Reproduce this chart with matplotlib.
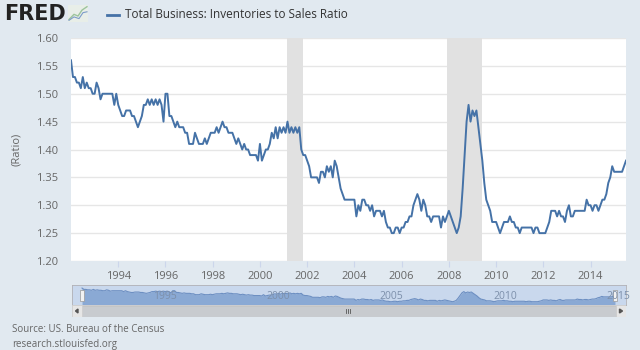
"""
plot.py
-------
FRED style line chart: Total Business Inventories to Sales Ratio, 1992-2015,
with recession shading, a navigator strip and a scrollbar underneath.
"""

import numpy as np
import matplotlib
matplotlib.use("Agg")
import matplotlib.pyplot as plt
from matplotlib.patches import Rectangle, Polygon


# ─────────────────────────────────────────────
# Data (monthly, starting January 1992)
# ─────────────────────────────────────────────

START_YEAR = 1992

ratio = [
    1.56, 1.53, 1.53, 1.52, 1.52, 1.51, 1.53, 1.51, 1.52, 1.51, 1.51, 1.50,  # 1992
    1.50, 1.52, 1.51, 1.49, 1.50, 1.50, 1.50, 1.50, 1.50, 1.50, 1.48, 1.50,  # 1993
    1.48, 1.47, 1.46, 1.46, 1.47, 1.47, 1.47, 1.46, 1.46, 1.45, 1.44, 1.45,  # 1994
    1.46, 1.48, 1.48, 1.49, 1.48, 1.49, 1.48, 1.49, 1.48, 1.49, 1.48, 1.45,  # 1995
    1.50, 1.50, 1.46, 1.46, 1.45, 1.44, 1.45, 1.44, 1.44, 1.44, 1.43, 1.43,  # 1996
    1.41, 1.41, 1.41, 1.43, 1.42, 1.41, 1.41, 1.41, 1.42, 1.41, 1.42, 1.43,  # 1997
    1.43, 1.43, 1.44, 1.43, 1.44, 1.45, 1.44, 1.44, 1.43, 1.43, 1.43, 1.42,  # 1998
    1.41, 1.42, 1.41, 1.40, 1.41, 1.40, 1.40, 1.39, 1.39, 1.39, 1.39, 1.38,  # 1999
    1.41, 1.38, 1.39, 1.40, 1.40, 1.41, 1.43, 1.42, 1.44, 1.42, 1.44, 1.43,  # 2000
    1.44, 1.43, 1.45, 1.43, 1.44, 1.43, 1.44, 1.43, 1.44, 1.40, 1.39, 1.39,  # 2001
    1.38, 1.37, 1.35, 1.35, 1.35, 1.35, 1.34, 1.36, 1.36, 1.35, 1.37, 1.36,  # 2002
    1.37, 1.35, 1.38, 1.37, 1.35, 1.33, 1.32, 1.31, 1.31, 1.31, 1.31, 1.31,  # 2003
    1.31, 1.28, 1.30, 1.29, 1.31, 1.31, 1.30, 1.30, 1.29, 1.30, 1.28, 1.29,  # 2004
    1.29, 1.29, 1.28, 1.29, 1.27, 1.26, 1.26, 1.25, 1.25, 1.26, 1.26, 1.25,  # 2005
    1.26, 1.26, 1.27, 1.27, 1.28, 1.28, 1.30, 1.31, 1.32, 1.31, 1.29, 1.31,  # 2006
    1.30, 1.28, 1.28, 1.27, 1.28, 1.28, 1.28, 1.28, 1.26, 1.28, 1.27, 1.28,  # 2007
    1.29, 1.28, 1.27, 1.26, 1.25, 1.26, 1.28, 1.33, 1.39, 1.45, 1.48, 1.45,  # 2008
    1.47, 1.46, 1.47, 1.44, 1.41, 1.38, 1.34, 1.31, 1.30, 1.29, 1.27, 1.27,  # 2009
    1.27, 1.26, 1.25, 1.26, 1.27, 1.27, 1.27, 1.28, 1.27, 1.27, 1.26, 1.26,  # 2010
    1.25, 1.26, 1.26, 1.26, 1.26, 1.26, 1.26, 1.25, 1.26, 1.26, 1.25, 1.25,  # 2011
    1.25, 1.25, 1.26, 1.27, 1.29, 1.29, 1.29, 1.28, 1.29, 1.28, 1.28, 1.27,  # 2012
    1.29, 1.30, 1.28, 1.28, 1.29, 1.29, 1.29, 1.29, 1.29, 1.29, 1.31, 1.30,  # 2013
    1.30, 1.29, 1.30, 1.30, 1.29, 1.30, 1.31, 1.31, 1.32, 1.34, 1.35, 1.37,  # 2014
    1.36, 1.36, 1.36, 1.36, 1.36, 1.37, 1.38,                                # 2015
]

# NBER recessions (decimal years)
recession_starts = [2001 + 2 / 12, 2007 + 11 / 12]
recession_ends = [2001 + 10 / 12, 2009 + 5 / 12]

x_ticks = [1994, 1996, 1998, 2000, 2002, 2004, 2006, 2008, 2010, 2012, 2014]
y_ticks = [1.20, 1.25, 1.30, 1.35, 1.40, 1.45, 1.50, 1.55, 1.60]
navigator_years = [1995, 2000, 2005, 2010, 2015]

SERIES_TITLE = "Total Business: Inventories to Sales Ratio"
SOURCE_LINES = ["Source: US. Bureau of the Census", "research.stlouisfed.org"]


# ─────────────────────────────────────────────
# Styling
# ─────────────────────────────────────────────

BG = "#e1e9f0"
LINE = "#4572a7"
GRID = "#e6e6e6"
TEXT = "#666666"
SHADE = "#e1e1e1"

W, H = 640, 350

plt.rcParams["font.family"] = ["Open Sans", "DejaVu Sans"]


def px_box(x0, y0, x1, y1):
    """Pixel box (top-left origin) -> figure fraction rect."""
    return [x0 / W, 1 - y1 / H, (x1 - x0) / W, (y1 - y0) / H]


# ─────────────────────────────────────────────
# Main chart
# ─────────────────────────────────────────────

def draw_main(fig, t, values):
    ax = fig.add_axes(px_box(71, 38, 626, 261))
    ax.set_facecolor("white")

    for s, e in zip(recession_starts, recession_ends):
        ax.axvspan(s, e, color=SHADE, lw=0, zorder=1)

    ax.plot(t, values, color=LINE, lw=1.4, zorder=3, solid_joinstyle="round")

    ax.set_xlim(t[0], t[-1])
    ax.set_ylim(1.20, 1.60)
    ax.set_yticks(y_ticks)
    ax.set_yticklabels([f"{v:.2f}" for v in y_ticks])
    ax.set_xticks(x_ticks)
    ax.set_xticklabels([str(v) for v in x_ticks])
    ax.grid(axis="y", color=GRID, lw=1, zorder=0)
    ax.set_axisbelow(True)

    for sp in ax.spines.values():
        sp.set_visible(False)

    ax.tick_params(axis="y", length=0, pad=9, labelsize=8, labelcolor=TEXT)
    ax.tick_params(axis="x", length=4, width=0.8, color="#ccd6eb", pad=3,
                   labelsize=8, labelcolor=TEXT)

    ax.set_ylabel("(Ratio)", fontsize=8, color=TEXT, labelpad=10)
    return ax


# ─────────────────────────────────────────────
# Navigator + scrollbar
# ─────────────────────────────────────────────

def draw_navigator(fig, t, values):
    nav = fig.add_axes(px_box(72, 285, 626, 305))
    nav.set_facecolor("#c9d8ed")
    nav.fill_between(t, 1.0, values, color="#8aa9d4", lw=0, zorder=1)
    nav.plot(t, values, color="#6d8fc2", lw=0.8, zorder=2)
    nav.set_xlim(t[0] - 10 / 22.6, t[-1] + 11 / 22.6)
    nav.set_ylim(1.175, 1.63)
    nav.set_xticks([])
    nav.set_yticks([])
    for sp in nav.spines.values():
        sp.set_color("#b2b1b6")
        sp.set_linewidth(0.6)

    for yr in navigator_years:
        nav.annotate(str(yr), xy=(yr, 1.175), xytext=(2, 2),
                     textcoords="offset points", ha="left", va="bottom",
                     fontsize=7.5, color="#7d90ab", annotation_clip=False,
                     zorder=6)

    # handles at both ends of the selected range
    for xv in (t[0], t[-1]):
        nav.add_patch(Rectangle((xv - 0.1, 1.27), 0.2, 0.24,
                                facecolor="#f2f2f2", edgecolor="#999999",
                                lw=0.5, zorder=5))

    # scrollbar
    sb = fig.add_axes(px_box(72, 305, 626, 317))
    sb.set_xlim(0, 554)
    sb.set_ylim(0, 12)
    sb.axis("off")
    sb.add_patch(Rectangle((0, 0), 554, 12, facecolor="#eeeeee",
                           edgecolor="#cccccc", lw=0.5))
    sb.add_patch(Rectangle((9, 0.5), 535, 11, facecolor="#c8cbcf",
                           edgecolor="#bbbbbb", lw=0.5))
    for x0 in (0, 544):
        sb.add_patch(Rectangle((x0, 0), 10, 12, facecolor="#e6e6e6",
                               edgecolor="#cccccc", lw=0.5))
    sb.add_patch(Polygon([[6, 4], [6, 8], [3.5, 6]], closed=True,
                         color="#555555"))
    sb.add_patch(Polygon([[547.5, 4], [547.5, 8], [550.5, 6]], closed=True,
                         color="#555555"))
    for dx in (-2, 0, 2):
        sb.plot([276 + dx, 276 + dx], [4, 8], color="#555555", lw=0.6)


# ─────────────────────────────────────────────
# Header (logo + legend) and footer
# ─────────────────────────────────────────────

def draw_header_footer(fig):
    fig.text(4 / W, 1 - 14 / H, "FRED", fontsize=15, fontweight="bold",
             family="DejaVu Sans", color="#222222", va="center", ha="left")

    logo = fig.add_axes(px_box(68, 5, 88, 22))
    logo.set_xlim(0, 1)
    logo.set_ylim(0, 1)
    logo.axis("off")
    logo.add_patch(Rectangle((0, 0), 1, 1, facecolor="#e8eee8", lw=0))
    logo.plot([0.05, 0.3, 0.5, 0.7, 0.95], [0.15, 0.45, 0.35, 0.7, 0.9],
              color="#9cc49c", lw=1)
    logo.plot([0.05, 0.3, 0.55, 0.75, 0.95], [0.1, 0.3, 0.2, 0.55, 0.6],
              color="#7c9cc8", lw=0.8)

    fig.add_artist(plt.Line2D([107 / W, 119 / W], [1 - 15 / H, 1 - 15 / H],
                              color=LINE, lw=2))
    fig.text(125 / W, 1 - 15 / H, SERIES_TITLE, fontsize=8.5,
             color="#333333", va="center", ha="left")

    fig.text(12 / W, 1 - 330 / H, SOURCE_LINES[0], fontsize=7, color=TEXT,
             va="center", ha="left")
    fig.text(12 / W, 1 - 345 / H, SOURCE_LINES[1], fontsize=7, color=TEXT,
             va="center", ha="left")


def main() -> None:
    values = np.array(ratio)
    t = START_YEAR + np.arange(len(values)) / 12.0

    fig = plt.figure(figsize=(W / 100, H / 100), dpi=100, facecolor=BG)
    draw_main(fig, t, values)
    draw_navigator(fig, t, values)
    draw_header_footer(fig)
    fig.savefig("out.png", dpi=100, facecolor=BG)
    plt.close(fig)


if __name__ == "__main__":
    main()
